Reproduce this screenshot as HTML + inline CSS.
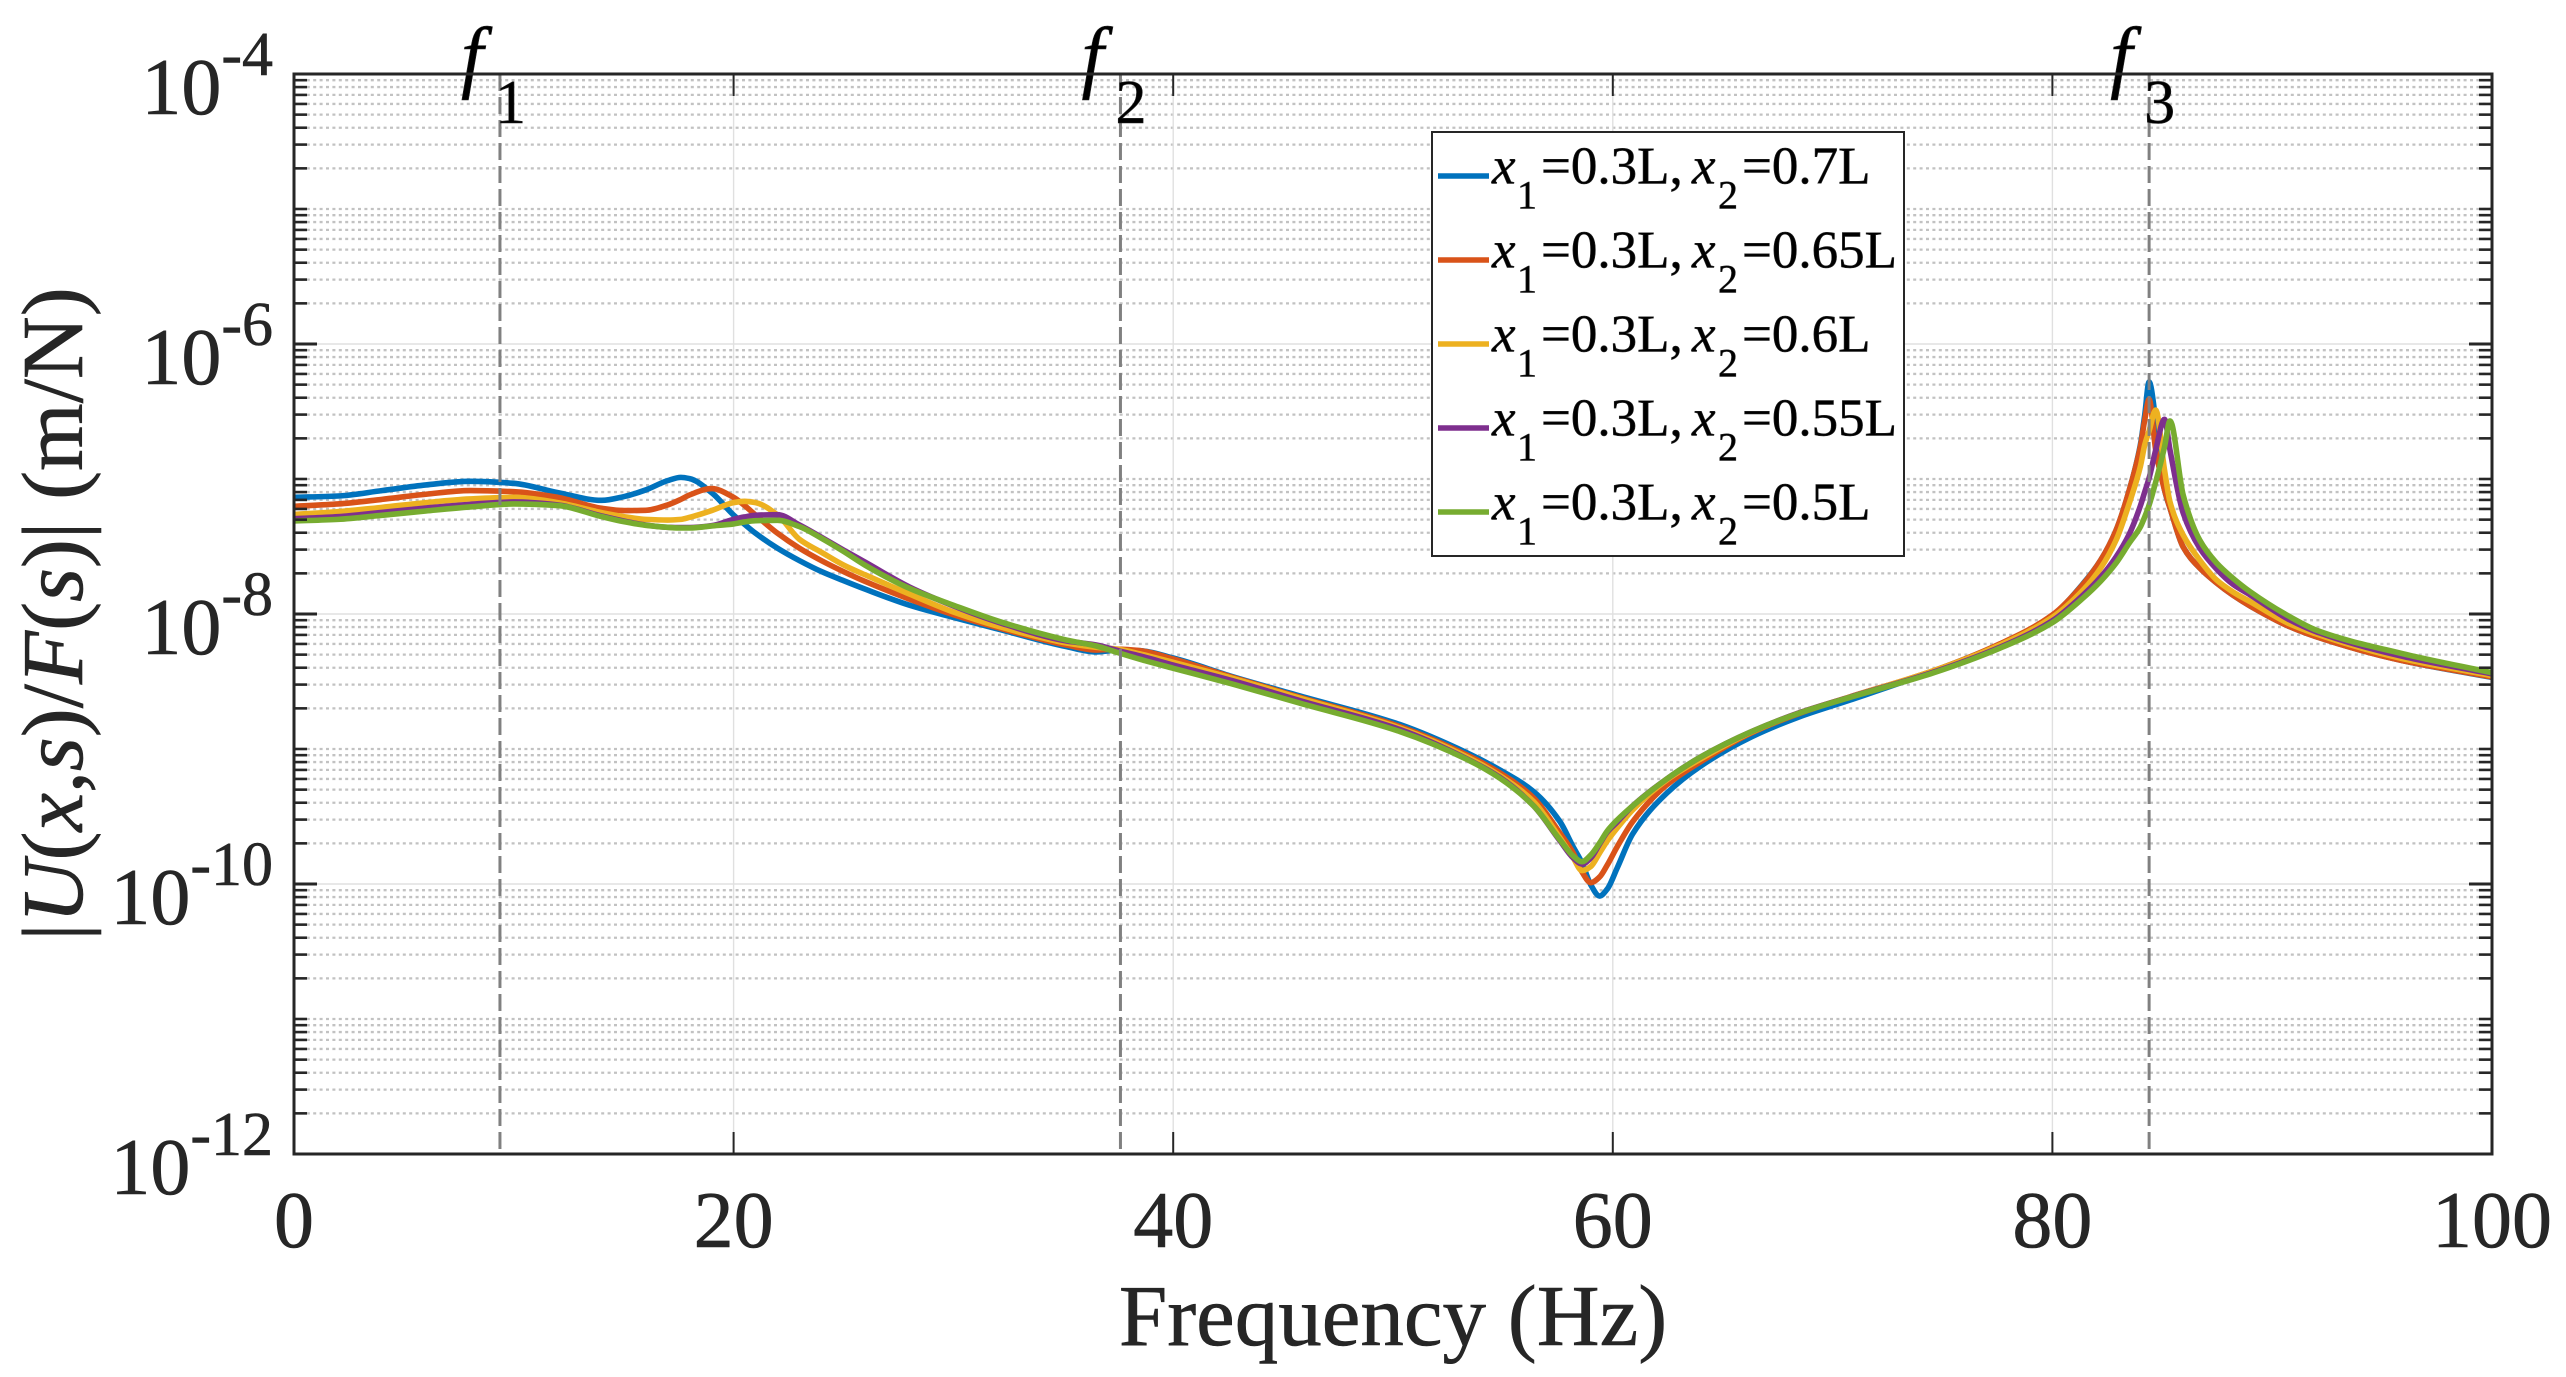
<!DOCTYPE html>
<html lang="en">
<head>
<meta charset="utf-8">
<title>Frequency response</title>
<style>
html,body{margin:0;padding:0;background:#fff;}
svg{display:block;font-family:"Liberation Serif","Times New Roman",serif;}
text{stroke:#262626;stroke-width:.6;}
</style>
</head>
<body>
<svg id="chart" xmlns="http://www.w3.org/2000/svg" width="2566" height="1377" viewBox="0 0 2566 1377">
<rect x="0" y="0" width="2566" height="1377" fill="#ffffff"/>
<g id="grid"></g>
<g id="curves"></g>
<g id="markers"></g>
<g id="axes"></g>
<g id="legend"></g>
<text x="1393" y="1345" font-size="87" text-anchor="middle" fill="#262626">Frequency (Hz)</text>
<text transform="translate(82 614) rotate(-90)" font-size="87" text-anchor="middle" fill="#262626">|<tspan font-style="italic">U</tspan>(<tspan font-style="italic">x</tspan>,<tspan font-style="italic">s</tspan>)/<tspan font-style="italic">F</tspan>(<tspan font-style="italic">s</tspan>)| (m/N)</text>
</svg>
<script>
// Frequency samples (Hz), shared by every series
const frequencies = [0,2,4,6,8,10,12,14,15,16,17,17.6,18,19,20,20.5,21,22,23,24,25,26,28,
30,32.12,35.15,36.5,37.5,38.5,40,42.7,45.77,50.3,53.35,54.87,56.4,57.6,58.2,58.6,59,59.4,59.75,60.2,60.9,62.45,64,66.3,68.5,70.8,74.6,77.6,80,
81.4,82.2,82.9,83.5,84,84.2,84.4,84.7,85.1,85.35,85.95,86.7,87.47,88.2,89,90.8,92,95.8,100];

// log10 of |U(x,s)/F(s)| in m/N
const seriesX2_070 = [-7.136,-7.126,-7.086,-7.044,-7.017,-7.032,-7.101,-7.158,-7.131,-7.081,-7.012,-6.988,-6.997,-7.101,-7.267,-7.336,-7.402,-7.513,-7.605,-7.686,-7.753,-7.817,-7.935,
-8.025,-8.115,-8.242,-8.281,-8.267,-8.272,-8.326,-8.464,-8.607,-8.818,-9.027,-9.156,-9.316,-9.539,-9.726,-9.844,-10.007,-10.089,-10.037,-9.881,-9.630,-9.328,-9.126,-8.911,-8.761,-8.637,-8.422,-8.224,-8.010,
-7.774,-7.600,-7.378,-7.081,-6.748,-6.526,-6.281,-6.563,-7.081,-7.215,-7.504,-7.659,-7.770,-7.859,-7.941,-8.094,-8.168,-8.341,-8.470];
const seriesX2_065 = [-7.202,-7.185,-7.151,-7.113,-7.086,-7.094,-7.136,-7.217,-7.234,-7.232,-7.192,-7.151,-7.118,-7.071,-7.136,-7.197,-7.267,-7.402,-7.513,-7.605,-7.686,-7.760,-7.890,
-8.005,-8.105,-8.230,-8.267,-8.261,-8.272,-8.333,-8.469,-8.617,-8.833,-9.044,-9.178,-9.363,-9.624,-9.770,-9.911,-9.990,-9.948,-9.859,-9.724,-9.539,-9.267,-9.094,-8.881,-8.736,-8.613,-8.420,-8.222,-8.007,
-7.778,-7.600,-7.378,-7.081,-6.761,-6.563,-6.410,-6.785,-7.081,-7.215,-7.504,-7.659,-7.770,-7.859,-7.941,-8.094,-8.168,-8.341,-8.467];
const seriesX2_060 = [-7.262,-7.242,-7.210,-7.175,-7.148,-7.136,-7.175,-7.249,-7.279,-7.299,-7.304,-7.299,-7.284,-7.234,-7.175,-7.165,-7.175,-7.267,-7.447,-7.543,-7.637,-7.711,-7.852,
-7.985,-8.095,-8.215,-8.247,-8.261,-8.296,-8.358,-8.476,-8.624,-8.844,-9.057,-9.198,-9.390,-9.659,-9.807,-9.901,-9.870,-9.770,-9.681,-9.585,-9.452,-9.230,-9.074,-8.876,-8.731,-8.613,-8.420,-8.230,-8.024,
-7.822,-7.659,-7.452,-7.178,-6.909,-6.748,-6.644,-6.489,-6.933,-7.170,-7.415,-7.600,-7.748,-7.835,-7.909,-8.074,-8.148,-8.326,-8.457];
const seriesX2_055 = [-7.294,-7.279,-7.247,-7.215,-7.188,-7.170,-7.192,-7.274,-7.311,-7.341,-7.358,-7.360,-7.360,-7.346,-7.299,-7.281,-7.269,-7.264,-7.341,-7.432,-7.526,-7.617,-7.800,
-7.940,-8.065,-8.200,-8.230,-8.272,-8.311,-8.378,-8.494,-8.642,-8.855,-9.072,-9.211,-9.422,-9.681,-9.807,-9.852,-9.807,-9.704,-9.615,-9.541,-9.422,-9.222,-9.059,-8.872,-8.731,-8.615,-8.430,-8.247,-8.050,
-7.859,-7.726,-7.576,-7.407,-7.200,-7.096,-6.993,-6.785,-6.558,-6.785,-7.252,-7.511,-7.667,-7.778,-7.859,-8.044,-8.131,-8.309,-8.444];
const seriesX2_050 = [-7.311,-7.299,-7.269,-7.237,-7.207,-7.185,-7.197,-7.279,-7.316,-7.343,-7.358,-7.363,-7.363,-7.348,-7.333,-7.318,-7.309,-7.306,-7.353,-7.439,-7.536,-7.640,-7.810,
-7.935,-8.057,-8.193,-8.237,-8.287,-8.336,-8.402,-8.519,-8.661,-8.870,-9.076,-9.217,-9.422,-9.674,-9.793,-9.835,-9.785,-9.696,-9.607,-9.526,-9.422,-9.222,-9.059,-8.872,-8.733,-8.617,-8.435,-8.254,-8.064,
-7.881,-7.756,-7.622,-7.474,-7.356,-7.281,-7.193,-7.022,-6.763,-6.570,-7.119,-7.452,-7.622,-7.733,-7.835,-8.020,-8.119,-8.289,-8.435];

const seriesColors = ['#0072BD','#D95319','#EDB120','#7E2F8E','#77AC30'];
const legendX2Labels = ['0.7','0.65','0.6','0.55','0.5'];
const allSeries = [seriesX2_070, seriesX2_065, seriesX2_060, seriesX2_055, seriesX2_050];

const xTickValues = [0,20,40,60,80,100];
const xGridValues = [20,40,60,80];
const yTickExponents = [-4,-6,-8,-10,-12];
const yMajorGridExponents = [-6,-8,-10];
const minorDecades = [-5,-6,-7,-8,-9,-10,-11,-12];
const minorMultipliers = [2,3,4,5,6,7,8,9];
const markerFrequencies = [9.37,37.6,84.4];
const markerIndices = ['1','2','3'];

const NS = 'http://www.w3.org/2000/svg';
const plot = {left:294, right:2492, top:74, bottom:1154};
const xMin = 0, xMax = 100, yMinExp = -12, yMaxExp = -4;
function xScale(f){ return plot.left + (f - xMin) / (xMax - xMin) * (plot.right - plot.left); }
function yScale(logValue){ return plot.top + (yMaxExp - logValue) / (yMaxExp - yMinExp) * (plot.bottom - plot.top); }

function mk(parent, tag, attrs, text){
  const el = document.createElementNS(NS, tag);
  for (const k in attrs) el.setAttribute(k, attrs[k]);
  if (text !== undefined) el.textContent = text;
  parent.appendChild(el);
  return el;
}

function monotonePath(xs, ys){
  const n = xs.length, d = [], m = new Array(n);
  for (let i = 0; i < n - 1; i++) d.push((ys[i+1] - ys[i]) / (xs[i+1] - xs[i]));
  m[0] = d[0]; m[n-1] = d[n-2];
  for (let i = 1; i < n - 1; i++) {
    if (d[i-1] * d[i] <= 0) { m[i] = 0; continue; }
    const h0 = xs[i] - xs[i-1], h1 = xs[i+1] - xs[i];
    const w0 = 2 * h1 + h0, w1 = h1 + 2 * h0;
    m[i] = (w0 + w1) / (w0 / d[i-1] + w1 / d[i]);
  }
  let p = 'M' + xs[0].toFixed(2) + ' ' + ys[0].toFixed(2);
  for (let i = 0; i < n - 1; i++) {
    const h = (xs[i+1] - xs[i]) / 3;
    p += 'C' + (xs[i] + h).toFixed(2) + ' ' + (ys[i] + m[i] * h).toFixed(2) + ' ' +
         (xs[i+1] - h).toFixed(2) + ' ' + (ys[i+1] - m[i+1] * h).toFixed(2) + ' ' +
         xs[i+1].toFixed(2) + ' ' + ys[i+1].toFixed(2);
  }
  return p;
}

const gridG = document.getElementById('grid');
const curvesG = document.getElementById('curves');
const markersG = document.getElementById('markers');
const axesG = document.getElementById('axes');
const legendG = document.getElementById('legend');

// Minor horizontal grid + minor ticks
function addMinorLine(logValue){
  const y = yScale(logValue);
  const line = mk(gridG, 'line', {x1:plot.left, x2:plot.right, y1:y, y2:y, stroke:'#c2c2c2', 'stroke-width':2.3, 'stroke-dasharray':'3 3.4'});
  
  
  const t1 = mk(axesG, 'line', {x1:plot.left, x2:plot.left + 13, y1:y, y2:y, stroke:'#262626', 'stroke-width':2.6});
  
  
  const t2 = mk(axesG, 'line', {x1:plot.right - 13, x2:plot.right, y1:y, y2:y, stroke:'#262626', 'stroke-width':2.6});
  
  
}
minorDecades.forEach(function(decade){
  minorMultipliers.forEach(function(mult){
    addMinorLine(decade + Math.log10(mult));
  });
  if (decade % 2 !== 0) addMinorLine(decade);
});

// Major grid
yMajorGridExponents.forEach(function(e){
  const y = yScale(e);
  const line = mk(gridG, 'line', {x1:plot.left, x2:plot.right, y1:y, y2:y, stroke:'#e0e0e0', 'stroke-width':1.4});
  
  
});
xGridValues.forEach(function(v){
  const x = xScale(v);
  const line = mk(gridG, 'line', {x1:x, x2:x, y1:plot.top, y2:plot.bottom, stroke:'#e0e0e0', 'stroke-width':1.4});
  
  
});

// Curves
allSeries.forEach(function(values, idx){
  const xs = frequencies.map(xScale);
  const ys = values.map(yScale);
  const path = mk(curvesG, 'path', {d:monotonePath(xs, ys), fill:'none', stroke:seriesColors[idx], 'stroke-width':5.6, 'stroke-linejoin':'round'});
  
  
});

// Dashed resonance markers and labels
markerFrequencies.forEach(function(f, i){
  const x = xScale(f);
  const line = mk(markersG, 'line', {x1:x, x2:x, y1:plot.top, y2:plot.bottom, stroke:'#808080', 'stroke-width':3, 'stroke-dasharray':'17 6'});
  
  
  const label = mk(markersG, 'text', {x:x - 39, y:83, 'font-size':80, 'font-style':'italic', fill:'#000'}, 'f');
  
  
  const sub = mk(markersG, 'text', {x:x - 5, y:123, 'font-size':62, fill:'#000'}, markerIndices[i]);
  
  
});

// Axes box
const box = mk(axesG, 'rect', {x:plot.left, y:plot.top, width:plot.right - plot.left, height:plot.bottom - plot.top, fill:'none', stroke:'#262626', 'stroke-width':3});



// X ticks and labels
xTickValues.forEach(function(v){
  const x = xScale(v);
  if (v > xMin && v < xMax) {
    const t1 = mk(axesG, 'line', {x1:x, x2:x, y1:plot.bottom, y2:plot.bottom - 22, stroke:'#262626', 'stroke-width':2});
    
    
    const t2 = mk(axesG, 'line', {x1:x, x2:x, y1:plot.top, y2:plot.top + 22, stroke:'#262626', 'stroke-width':2});
    
    
  }
  const label = mk(axesG, 'text', {x:x, y:1247, 'font-size':80, 'text-anchor':'middle', fill:'#262626'}, String(v));
  
  
});

// Y ticks and labels
yTickExponents.forEach(function(e){
  const y = yScale(e);
  const t1 = mk(axesG, 'line', {x1:plot.left, x2:plot.left + 23, y1:y, y2:y, stroke:'#262626', 'stroke-width':3});
  
  
  const t2 = mk(axesG, 'line', {x1:plot.right - 23, x2:plot.right, y1:y, y2:y, stroke:'#262626', 'stroke-width':3});
  
  
  const label = mk(axesG, 'text', {x:273, y:y + 40, 'text-anchor':'end', fill:'#262626'});
  
  
  mk(label, 'tspan', {'font-size':80}, '10');
  mk(label, 'tspan', {'font-size':62, dy:-39}, String(e));
});

// Legend
const legendBox = mk(legendG, 'rect', {x:1432, y:132, width:472, height:424, fill:'#ffffff', stroke:'#262626', 'stroke-width':2});


legendX2Labels.forEach(function(lbl, i){
  const rowY = 176 + 84 * i;
  const base = rowY + 7.5;
  const sw = mk(legendG, 'line', {x1:1438, x2:1489, y1:rowY, y2:rowY, stroke:seriesColors[i], 'stroke-width':5.4});
  
  
  const g = mk(legendG, 'g', {fill:'#000'});
  
  
  const t = mk(g, 'text', {y:base, 'font-size':53});
  mk(t, 'tspan', {x:1492, 'font-style':'italic'}, 'x');
  mk(t, 'tspan', {x:1517, y:base + 25, 'font-size':40}, '1');
  mk(t, 'tspan', {x:1541, y:base}, '=0.3L, ');
  mk(t, 'tspan', {x:1692, y:base, 'font-style':'italic'}, 'x');
  mk(t, 'tspan', {x:1718, y:base + 25, 'font-size':40}, '2');
  mk(t, 'tspan', {x:1742, y:base}, '=' + lbl + 'L');
});
</script>
</body>
</html>
